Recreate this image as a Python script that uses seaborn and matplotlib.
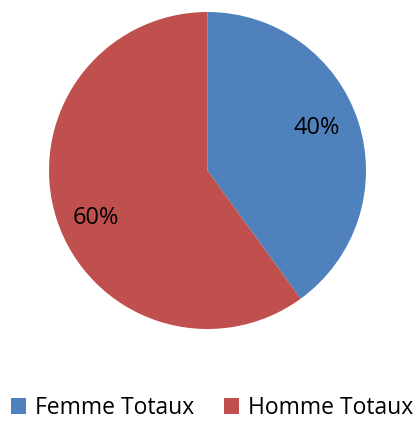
import matplotlib
matplotlib.use("Agg")
import matplotlib.pyplot as plt
import seaborn as sns

# data
labels = ["Femme Totaux", "Homme Totaux"]
shares = [40, 60]
colors = ["#4F81BD", "#C0504D"]

sns.set_style("white")
plt.rcParams["font.family"] = ["Open Sans", "DejaVu Sans"]
plt.rcParams["text.color"] = "black"

fig = plt.figure(figsize=(4.19, 4.22), dpi=100)
ax = fig.add_axes([49 / 419, 1 - 329 / 422, 317 / 419, 317 / 422])

wedges, texts, autotexts = ax.pie(
    shares,
    colors=colors,
    startangle=90,
    counterclock=False,
    autopct="%1.0f%%",
    pctdistance=0.74,
    radius=1,
    wedgeprops=dict(linewidth=0),
    textprops=dict(fontsize=17, color="black"),
)
# nudge labels to match the original placement
autotexts[0].set_position((0.69, 0.27))
autotexts[1].set_position((-0.705, -0.30))
ax.set_xlim(-1, 1)
ax.set_ylim(-1, 1)
ax.set_aspect("auto")
ax.axis("off")

fig.legend(
    wedges,
    labels,
    loc="center",
    bbox_to_anchor=(212 / 419, 1 - 408 / 422),
    ncol=2,
    frameon=False,
    fontsize=16.5,
    labelcolor="black",
    handlelength=0.65,
    handleheight=0.65,
    handletextpad=0.4,
    columnspacing=1.3,
    borderpad=0,
    borderaxespad=0,
)

fig.savefig("out.png", dpi=100)
